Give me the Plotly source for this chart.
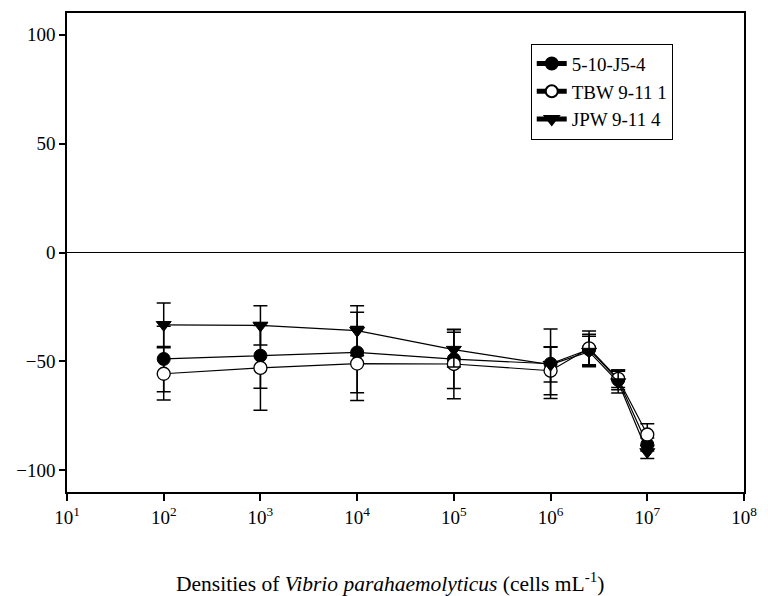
import plotly.graph_objects as go

densities = [1e2, 1e3, 1e4, 1e5, 1e6, 2.5e6, 5e6, 1e7]

s1_name = "5-10-J5-4"
s1_vals = [-48.9, -47.4, -45.9, -49.0, -51.1, -44.5, -58.5, -88.2]
s1_err = [15.0, 15.0, 18.5, 13.5, 16.0, 7.0, 4.5, 3.0]

s2_name = "TBW 9-11 1"
s2_vals = [-55.7, -53.0, -51.0, -51.2, -54.3, -44.0, -58.0, -83.6]
s2_err = [12.0, 19.5, 17.0, 16.0, 11.0, 8.0, 4.0, 5.0]

s3_name = "JPW 9-11 4"
s3_vals = [-33.2, -33.5, -35.9, -44.6, -51.5, -45.5, -59.5, -91.6]
s3_err = [10.0, 9.0, 11.5, 8.0, 8.0, 7.0, 5.0, 3.0]

x_tickvals = [1e1, 1e2, 1e3, 1e4, 1e5, 1e6, 1e7, 1e8]
x_ticktext = ["10<sup>1</sup>", "10<sup>2</sup>", "10<sup>3</sup>", "10<sup>4</sup>",
              "10<sup>5</sup>", "10<sup>6</sup>", "10<sup>7</sup>", "10<sup>8</sup>"]
y_tickvals = [-100, -50, 0, 50, 100]
x_title = "Densities of <i>Vibrio parahaemolyticus</i> (cells mL<sup>-1</sup>)"

FONT = "Liberation Serif"

fig = go.Figure()

series = [
    (s1_name, s1_vals, s1_err, dict(symbol="circle", color="black", size=13,
                                    line=dict(color="black", width=1))),
    (s2_name, s2_vals, s2_err, dict(symbol="circle", color="white", size=13,
                                    line=dict(color="black", width=1.3))),
    (s3_name, s3_vals, s3_err, dict(symbol="triangle-down", color="black", size=13,
                                    line=dict(color="black", width=1))),
]

for name, vals, err, marker in series:
    fig.add_trace(go.Scatter(
        x=densities, y=vals, name=name, mode="lines+markers",
        line=dict(color="black", width=1.2),
        marker=marker,
        error_y=dict(type="data", array=err, visible=True, color="black",
                     thickness=1.5, width=7),
    ))

fig.update_layout(
    width=768, height=596,
    margin=dict(l=67, r=14, t=11, b=104),
    paper_bgcolor="white", plot_bgcolor="white",
    font=dict(family=FONT, size=19, color="black"),
    showlegend=True,
    legend=dict(x=0.685, y=0.936, xanchor="left", yanchor="top",
                bgcolor="white", bordercolor="black", borderwidth=1,
                font=dict(family=FONT, size=19, color="black"),
                tracegroupgap=0, itemsizing="constant"),
    xaxis=dict(type="log", range=[1, 8], tickvals=x_tickvals, ticktext=x_ticktext,
               tickfont=dict(family=FONT, size=19, color="black"),
               showgrid=False, zeroline=False, showline=True, linecolor="black",
               linewidth=1.5, mirror=True, ticks="outside", ticklen=7,
               tickcolor="black", tickwidth=1.5),
    yaxis=dict(range=[-110, 110], tickvals=y_tickvals, showgrid=False,
               tickfont=dict(family=FONT, size=19, color="black"),
               zeroline=True, zerolinecolor="black", zerolinewidth=1,
               showline=True, linecolor="black", linewidth=1.5, mirror=True,
               ticks="outside", ticklen=6, tickcolor="black", tickwidth=1.5),
    annotations=[dict(text=x_title, xref="paper", yref="paper", x=0.4774, y=-0.189,
                      xanchor="center", yanchor="middle", showarrow=False,
                      font=dict(family=FONT, size=21.5, color="black"))],
)

fig.write_html("out.html")
